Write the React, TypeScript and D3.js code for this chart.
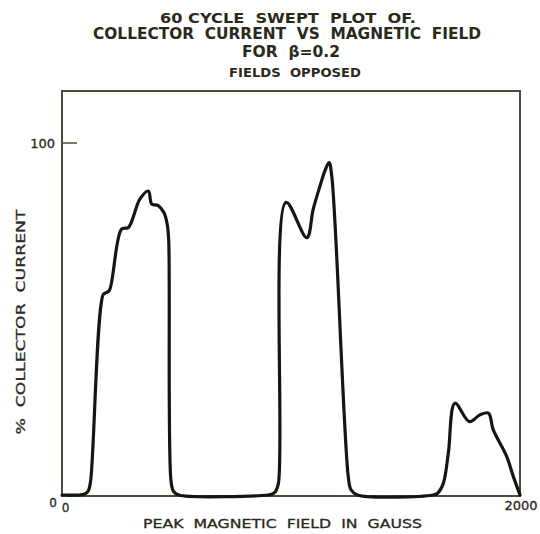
import { useEffect, useRef } from "react";
import * as d3 from "d3";

// field in gauss vs % collector current
const fieldGauss = [
  0, 75, 100, 115, 125, 180, 192, 207, 260, 290, 340, 377, 392, 420, 445, 460, 466, 476, 487, 510,
  900, 915, 930, 945, 978, 1069, 1097, 1127, 1148, 1166, 1178, 1250, 1262, 1290,
  1620, 1640, 1665, 1687, 1716, 1779, 1825, 1862, 1883, 1942, 1971, 2000,
];
const collectorPct = [
  0, 0, 0.3, 1.2, 4, 56.8, 57.3, 58, 75.3, 75.8, 83.8, 86.1, 82.4, 82, 80, 76.5, 72, 4, 1, 0,
  0, 0.2, 0.8, 3.3, 82.9, 72.9, 81, 87.6, 91.8, 94.2, 90.4, 5.2, 1.5, 0,
  0, 0.5, 3.3, 11.8, 26, 20.8, 22.7, 23.2, 18.5, 10.9, 5.2, 0,
];

const titleLines = [
  "60 CYCLE  SWEPT  PLOT  OF.",
  "COLLECTOR  CURRENT  VS  MAGNETIC  FIELD",
  "FOR  \u03B2=0.2",
  "FIELDS  OPPOSED",
];
const xLabel = "PEAK  MAGNETIC  FIELD  IN  GAUSS";
const yLabel = "%  COLLECTOR  CURRENT";

export default function App() {
  const svgRef = useRef<SVGSVGElement>(null);

  useEffect(() => {
    if (!svgRef.current) return;
    const svg = d3.select(svgRef.current);
    svg.selectAll("*").remove();

    const font = "'DejaVu Sans', sans-serif";
    const ink = "#2a2a1c";
    const frame = "#4b4b3c";

    const x = d3.scaleLinear().domain([0, 2000]).range([62, 520]);
    const y = d3.scaleLinear().domain([0, 100]).range([496, 143]);

    // title
    const titleSpec = [
      { x: 288, y: 22.5, size: 14, len: 256 },
      { x: 287, y: 39, size: 15, len: 388 },
      { x: 291, y: 57, size: 15, len: 98 },
      { x: 295, y: 77, size: 12, len: 132 },
    ];
    titleLines.forEach((t, i) => {
      const s = titleSpec[i];
      svg.append("text")
        .attr("x", s.x).attr("y", s.y)
        .attr("text-anchor", "middle")
        .attr("font-family", font).attr("font-size", s.size)
        .attr("font-weight", "bold")
        .attr("fill", ink)
        .attr("textLength", s.len).attr("lengthAdjust", "spacingAndGlyphs")
        .style("white-space", "pre")
        .text(t);
    });

    // frame
    svg.append("rect")
      .attr("x", x(0)).attr("y", 91)
      .attr("width", x(2000) - x(0)).attr("height", y(0) - 91)
      .attr("fill", "none").attr("stroke", frame).attr("stroke-width", 2);

    // 100 tick
    svg.append("line")
      .attr("x1", x(0)).attr("x2", x(0) + 15)
      .attr("y1", y(100)).attr("y2", y(100))
      .attr("stroke", frame).attr("stroke-width", 1.5);

    const label = (tx: number, ty: number, txt: string, size: number, anchor = "middle") =>
      svg.append("text")
        .attr("x", tx).attr("y", ty)
        .attr("text-anchor", anchor)
        .attr("font-family", font).attr("font-size", size)
        .attr("fill", ink)
        .attr("stroke", ink).attr("stroke-width", 0.3)
        .text(txt);

    label(55, y(100) + 5, "100", 13, "end");
    label(53, 507, "0", 12);
    label(x(0) + 3.5, 512, "0", 12);
    label(x(2000) + 1, 510, "2000", 13);

    // axis titles
    svg.append("text")
      .attr("x", 282.5).attr("y", 528)
      .attr("text-anchor", "middle")
      .attr("font-family", font).attr("font-size", 12)
      .attr("fill", ink).attr("stroke", ink).attr("stroke-width", 0.3)
      .attr("textLength", 279).attr("lengthAdjust", "spacingAndGlyphs")
      .style("white-space", "pre")
      .text(xLabel);
    svg.append("text")
      .attr("transform", "translate(25,322) rotate(-90)")
      .attr("text-anchor", "middle")
      .attr("font-family", font).attr("font-size", 13)
      .attr("fill", ink).attr("stroke", ink).attr("stroke-width", 0.3)
      .attr("textLength", 225).attr("lengthAdjust", "spacingAndGlyphs")
      .style("white-space", "pre")
      .text(yLabel);

    // trace
    const pts = fieldGauss.map((g, i) => [g, collectorPct[i]] as [number, number]);
    const line = d3.line<[number, number]>()
      .x((d) => x(d[0]))
      .y((d) => y(d[1]) - 1)
      .curve(d3.curveCatmullRom.alpha(0.5));
    svg.append("path")
      .attr("d", line(pts))
      .attr("fill", "none")
      .attr("stroke", "#161610")
      .attr("stroke-width", 3.2)
      .attr("stroke-linejoin", "round")
      .attr("stroke-linecap", "round");
  }, []);

  return (
    <svg
      ref={svgRef}
      width={540}
      height={534}
      style={{ position: "absolute", left: 0, top: 0, background: "#fff" }}
    />
  );
}
